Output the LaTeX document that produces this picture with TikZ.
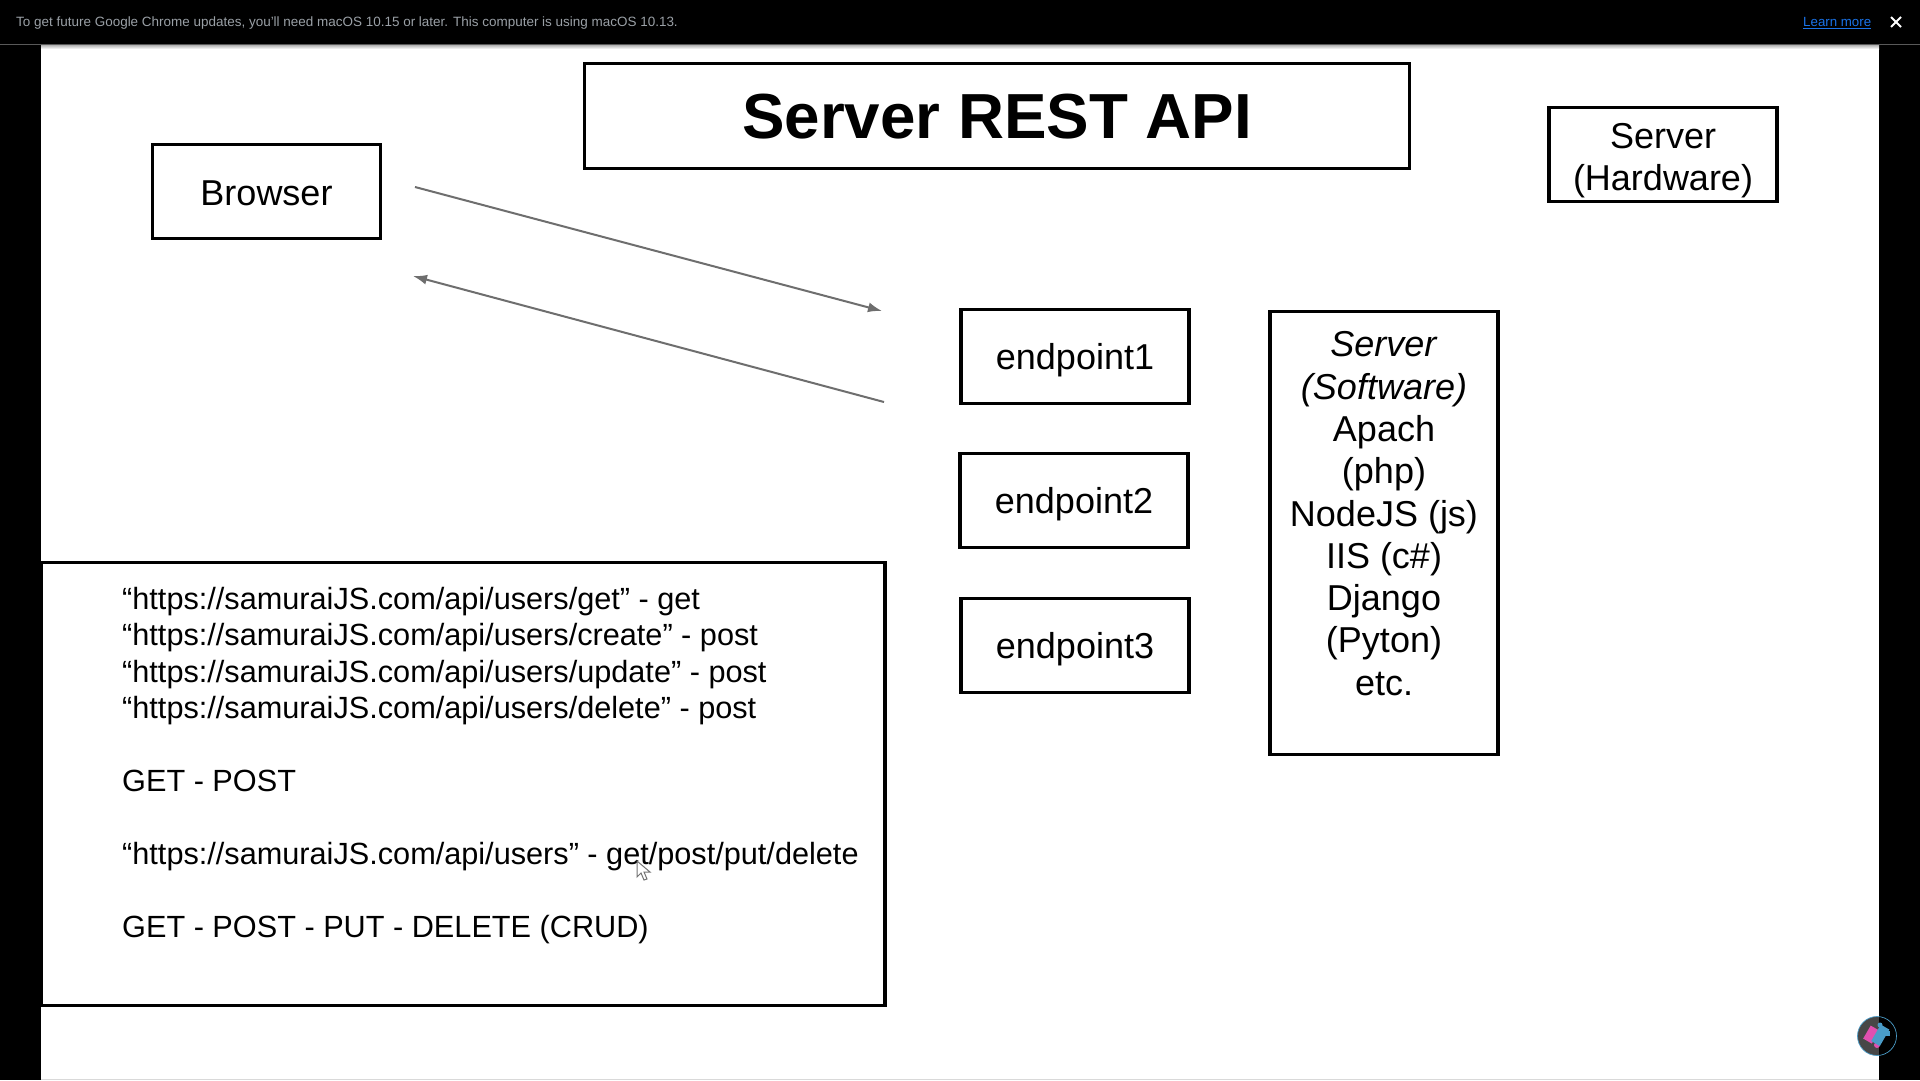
\documentclass[tikz,border=0pt]{standalone}
\usepackage{fontspec}
\setmainfont{Liberation Sans}
\usetikzlibrary{arrows.meta}
\definecolor{bargray}{HTML}{9AA0A6}
\definecolor{linkblue}{HTML}{1A73E8}
\definecolor{arrowgray}{HTML}{6E6E6E}
\definecolor{badgepink}{HTML}{E050B0}
\definecolor{badgeblue}{HTML}{4A9CC8}
\tikzset{
    box/.style={draw=black,line width=3.2pt,fill=white,inner sep=0pt,text depth=0pt,font=\fontsize{36}{42.3}\selectfont,align=center},
    link/.style={draw=arrowgray,line width=2pt,-{Latex[length=14pt,width=10pt]}},
}

\begin{document}
\begin{tikzpicture}[x=1pt,y=-1pt]
    \useasboundingbox (0,0) rectangle (1920,1080);
    \fill[black] (0,0) rectangle (1920,1080);
    \fill[white] (41,45) rectangle (1879,1079);
    \fill[black!15] (41,1079) rectangle (1879,1080);
    \fill[top color=black!30,bottom color=white] (41,45) rectangle (1879,49);
    \draw[color=black!65,line width=1pt] (0,44) -- (1920,44);

    % notice bar
    \node (notice) [anchor=west,inner sep=0pt,text=bargray,font=\fontsize{13.47}{16}\selectfont] at (16,23) {To get future Google Chrome updates, you'll need macOS 10.15 or later. This computer is using macOS 10.13.};
    \node (learn) [anchor=west,inner sep=0pt,text=linkblue,font=\fontsize{13.3}{16}\selectfont] at (1803,23) {\underline{Learn more}};
    \draw[white,line width=2pt] (1891,17) -- (1901,27) (1891,27) -- (1901,17);

    % boxes
    \node (title) [box,minimum width=825.5pt,minimum height=105pt,font=\fontsize{63.7}{70}\selectfont\bfseries] at (997,116) {Server REST API};
    \node (hardware) [box,minimum width=228pt,minimum height=94pt,text height=72pt] at (1663,154.5) {Server\\(Hardware)};
    \node (browser) [box,minimum width=228pt,minimum height=94pt,text height=28pt] at (266.5,191.5) {Browser};
    \node (endpoint1) [box,minimum width=228pt,minimum height=94pt] at (1075,356.5) {endpoint1};
    \node (endpoint2) [box,minimum width=228pt,minimum height=94pt] at (1074,500.5) {endpoint2};
    \node (endpoint3) [box,minimum width=228pt,minimum height=94pt] at (1075,645.5) {endpoint3};
    \node (software) [box,minimum width=228pt,minimum height=443pt] at (1384,533) {};
    \node (softtext) [anchor=north,inner sep=0pt,align=center,font=\fontsize{36}{42.3}\selectfont] at (1384,331.5) {\textit{Server}\\\textit{(Software)}\\Apach\\(php)\\NodeJS (js)\\IIS (c\#)\\Django\\(Pyton)\\etc.};
    \node (urlbox) [box,minimum width=844pt,minimum height=443pt] at (463,784) {};
    \node (urls) [anchor=north west,inner sep=0pt,align=left,font=\fontsize{30.67}{36.45}\selectfont] at (122,587) {“https://samuraiJS.com/api/users/get” - get\\“https://samuraiJS.com/api/users/create” - post\\“https://samuraiJS.com/api/users/update” - post\\“https://samuraiJS.com/api/users/delete” - post\\[36.45pt]GET - POST\\[36.45pt]“https://samuraiJS.com/api/users” - get/post/put/delete\\[36.45pt]GET - POST - PUT - DELETE (CRUD)};

    % arrows
    \coordinate (reqfrom) at (415,187);
    \coordinate (reqto) at (882,311);
    \coordinate (resfrom) at (884,402);
    \coordinate (resto) at (413,276);
    \draw[link] (reqfrom) -- (reqto);
    \draw[link] (resfrom) -- (resto);

    % cursor
    \fill[white,draw=black!55,line width=1pt] (637,861) -- (637,877) -- (641,873) -- (644,880) -- (647,879) -- (644,872) -- (650,872) -- cycle;

    % extension badge
    \fill[black,opacity=.72] (1877,1036) circle (19.5pt);
    \draw[badgeblue,line width=.7pt] (1877,1036) circle (19.5pt);
    \fill[badgepink,rotate around={-30:(1871,1035)}] (1866,1027) rectangle (1876,1042);
    \fill[badgepink] (1877,1045) circle (3pt);
    \fill[badgeblue,rotate around={-30:(1881,1034)}] (1876,1026) rectangle (1886,1045);
    \fill[badgeblue] (1880,1025) circle (2.5pt);
    \fill[badgeblue] (1884,1031) rectangle (1890,1036);
\end{tikzpicture}
\end{document}
